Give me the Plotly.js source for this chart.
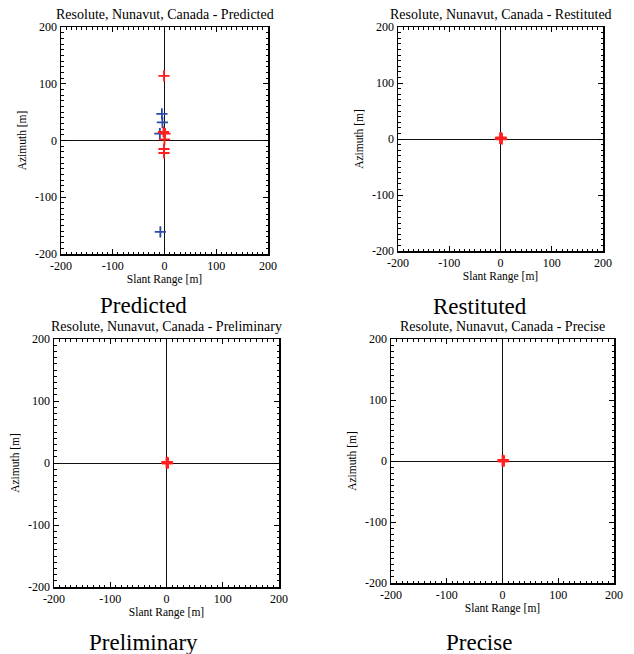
<!DOCTYPE html>
<html>
<head>
<meta charset="utf-8">
<script src="https://cdn.plot.ly/plotly-3.0.1.min.js"></script>
<style>html,body{margin:0;padding:0;background:#fff;}#chart{width:634px;height:654px;}</style>
</head>
<body>
<div id="chart"></div>
<script>
// ---- Data ----
const siteName = "Resolute, Nunavut, Canada";
const panelNames = ["Predicted", "Restituted", "Preliminary", "Precise"];

// Predicted: red points (slant range, azimuth) [m]
const predRedX = [-1, -2, 1, 0, -1, -1];
const predRedY = [114, 15, 12, 2, -15, -22];
// Predicted: blue points
const predBlueX = [-5, -4, -9, -8];
const predBlueY = [47, 32, 12, -161];

// Restituted
const restRedX = [1, 2, 0, 1];
const restRedY = [1, 0, 1, 2];
// Preliminary
const prelRedX = [1, 2, 1];
const prelRedY = [0, 0, 1];
// Precise
const precRedX = [1, 1, 2];
const precRedY = [0, 1, 0];

const tickVals = [-200, -100, 0, 100, 200];
const tickText = ["-200", "-100", "0", "100", "200"];

// ---- Layout geometry (pixels) ----
const W = 634, H = 654;
const boxes = [
  {x0: 61, x1: 268, y0: 27, y1: 254},
  {x0: 398, x1: 603, y0: 27, y1: 251},
  {x0: 54, x1: 279, y0: 339, y1: 587},
  {x0: 391, x1: 614, y0: 339, y1: 583}
];
const captionPos = [
  {x: 143, y: 305}, {x: 480, y: 306}, {x: 143, y: 642}, {x: 479, y: 642}
];

const FONT = "Liberation Serif";
const RED = "#ff1f1f", BLUE = "#2b4aa8";

function mk(x, y, color, axIdx, sz, lw) {
  const s = axIdx === 1 ? "" : String(axIdx);
  return {
    type: "scatter", mode: "markers", x: x, y: y,
    xaxis: "x" + s, yaxis: "y" + s, showlegend: false, hoverinfo: "skip",
    marker: {symbol: "cross-thin", size: sz, color: color, line: {color: color, width: lw}}
  };
}

const data = [
  mk(predBlueX, predBlueY, BLUE, 1, 8, 1.8),
  mk(predRedX, predRedY, RED, 1, 8, 1.8),
  mk(restRedX, restRedY, RED, 2, 8, 2.6),
  mk(prelRedX, prelRedY, RED, 3, 8, 2.6),
  mk(precRedX, precRedY, RED, 4, 8, 2.6)
];

const layout = {
  width: W, height: H,
  margin: {l: 0, r: 0, t: 0, b: 0},
  paper_bgcolor: "#fff", plot_bgcolor: "#fff",
  font: {family: FONT, color: "#000", size: 11},
  showlegend: false,
  annotations: []
};

boxes.forEach((b, i) => {
  const s = i === 0 ? "" : String(i + 1);
  const common = {
    range: [-200, 200], tickmode: "array", tickvals: tickVals, ticktext: tickText,
    ticks: "inside", ticklen: 5, tickwidth: 1, tickcolor: "#000",
    minor: {dtick: 10, ticks: "inside", ticklen: 2.5, tickcolor: "#000", tickwidth: 1},
    showline: true, linecolor: "#000", linewidth: 1.5, mirror: "ticks",
    showgrid: false, zeroline: true, zerolinecolor: "#111", zerolinewidth: 1,
    tickfont: {family: FONT, size: 12, color: "#000"}, fixedrange: true
  };
  layout["xaxis" + s] = Object.assign({}, common, {
    domain: [b.x0 / W, b.x1 / W],
    anchor: "y" + s,
    title: {text: "Slant Range [m]", font: {family: FONT, size: 11.5}, standoff: 2}
  });
  layout["yaxis" + s] = Object.assign({}, common, {
    domain: [1 - b.y1 / H, 1 - b.y0 / H],
    anchor: "x" + s,
    title: {text: "Azimuth [m]", font: {family: FONT, size: 11.5}, standoff: 6}
  });
  layout.annotations.push({
    text: siteName + " - " + panelNames[i],
    xref: "paper", yref: "paper",
    x: (b.x0 + b.x1) / 2 / W, y: 1 - (b.y0 - 3) / H,
    xanchor: "center", yanchor: "bottom", showarrow: false,
    font: {family: FONT, size: 14, color: "#000"}
  });
  layout.annotations.push({
    text: panelNames[i],
    xref: "paper", yref: "paper",
    x: captionPos[i].x / W, y: 1 - captionPos[i].y / H,
    xanchor: "center", yanchor: "middle", showarrow: false,
    font: {family: FONT, size: 23, color: "#000"}
  });
});

Plotly.newPlot("chart", data, layout, {displayModeBar: false, staticPlot: true});
</script>
</body>
</html>
